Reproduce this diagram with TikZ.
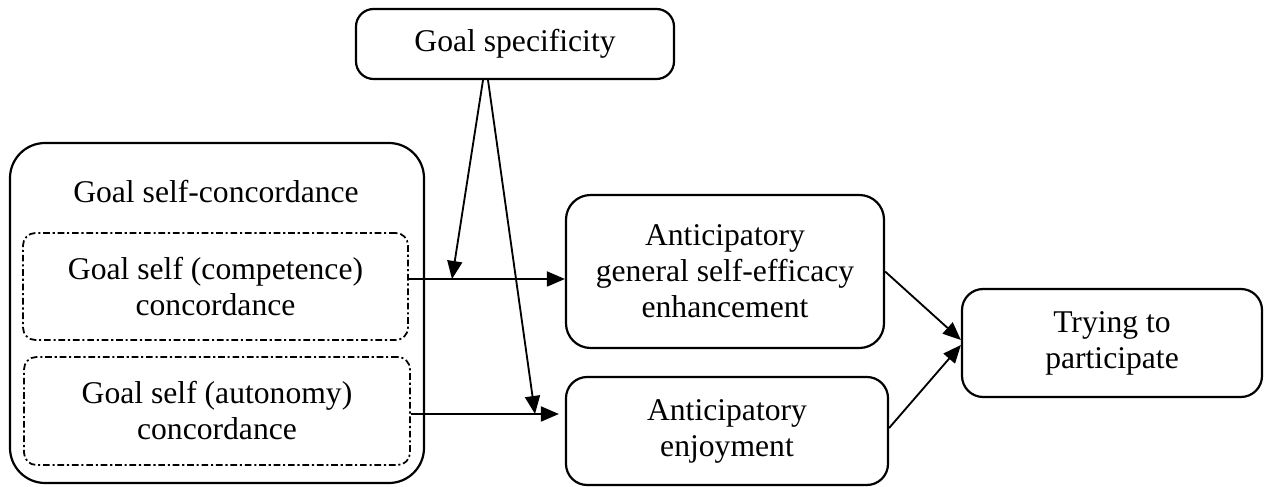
\documentclass[tikz,border=0pt]{standalone}
\usepackage{fontspec}
\setmainfont{Liberation Serif}
\usepackage{tikz}
\usetikzlibrary{arrows.meta,positioning}

\begin{document}
\begin{tikzpicture}[
  % ── node styles ──────────────────────────────────────────
  construct/.style={
    draw=black, line width=1.25pt,
    rounded corners=10pt,
    align=center, font=\fontsize{18}{20.5}\selectfont,
    inner sep=4pt
  },
  subdim/.style={
    draw=black, line width=1pt,
    dash pattern=on 3.8pt off 1.6pt on 1.2pt off 1.6pt,
    rounded corners=7pt,
    align=center, font=\fontsize{18}{20.5}\selectfont,
    inner sep=4pt
  },
  % ── arrow style ──────────────────────────────────────────
  arr/.style={-{Triangle[length=0.36cm,width=0.30cm]}, line width=1.05pt, color=black}
]
\useasboundingbox (0,0) rectangle (25.32,-9.74);

%% ── Moderator ──
\node[construct, minimum width=6.36cm, minimum height=1.40cm] (GS) at (10.30,-0.88) {Goal specificity};

%% ── Self-concordance block ──
\node[construct, rounded corners=20pt, minimum width=8.28cm, minimum height=6.80cm] (GSC) at (4.34,-6.26) {};
\node[font=\fontsize{18}{20.5}\selectfont] (GSCt) at (4.32,-3.84) {Goal self-concordance};
\node[subdim, minimum width=7.70cm, minimum height=2.14cm] (DB1) at (4.31,-5.73) {Goal self (competence)\\concordance};
\node[subdim, minimum width=7.72cm, minimum height=2.16cm] (DB2) at (4.34,-8.22) {Goal self (autonomy)\\concordance};

%% ── Mediators ──
\node[construct, rounded corners=14pt, minimum width=6.36cm, minimum height=3.06cm] (AGSE) at (14.50,-5.43) {Anticipatory\\general self-efficacy\\enhancement};
\node[construct, rounded corners=12pt, minimum width=6.44cm, minimum height=2.16cm] (ENJ) at (14.54,-8.62) {Anticipatory\\enjoyment};

%% ── Outcome ──
\node[construct, rounded corners=12pt, minimum width=6.00cm, minimum height=2.16cm] (TRY) at (22.24,-6.86) {Trying to\\participate};

%% ── Moderation points ──
\coordinate (mod1) at (9.04,-5.58);
\coordinate (mod2) at (10.70,-8.28);

%% ── Edges: concordance → mediators ──
\draw[arr] (DB1.east |- mod1) -- (AGSE.west |- mod1);
\draw[arr, shorten >=0.12cm] (DB2.east |- mod2) -- (ENJ.west |- mod2);

%% ── Edges: specificity → paths ──
\draw[arr] ([xshift=-0.64cm]GS.south) -- (mod1);
\draw[arr] ([xshift=-0.54cm]GS.south) -- (mod2);

%% ── Edges: mediators → outcome ──
\draw[arr] (AGSE.east) -- ([yshift=0.06cm]TRY.west);
\draw[arr] ([yshift=0.06cm]ENJ.east) -- ([yshift=-0.04cm]TRY.west);

\end{tikzpicture}
\end{document}
